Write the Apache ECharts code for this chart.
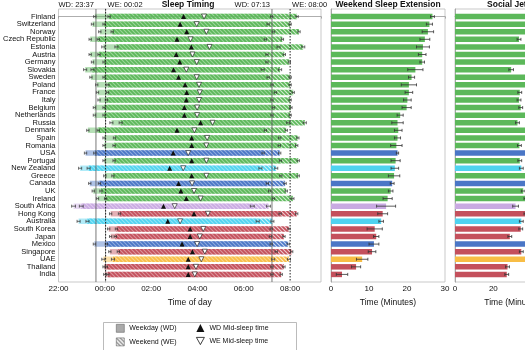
<!DOCTYPE html>
<html>
<head>
<meta charset="utf-8">
<script src="https://cdn.jsdelivr.net/npm/echarts@6/dist/echarts.min.js"></script>
<style>
  html, body { margin: 0; padding: 0; overflow: hidden; background: #fff; }
  #chart { width: 600px; height: 350px; }
</style>
</head>
<body>
<div id="chart"></div>
<script>
// countries, top to bottom
const countries = ['Finland', 'Switzerland', 'Norway', 'Czech Republic', 'Estonia', 'Austria', 'Germany',
  'Slovakia', 'Sweden', 'Poland', 'France', 'Italy', 'Belgium', 'Netherlands', 'Russia', 'Denmark',
  'Spain', 'Romania', 'USA', 'Portugal', 'New Zealand', 'Greece', 'Canada', 'UK', 'Ireland',
  'South Africa', 'Hong Kong', 'Australia', 'South Korea', 'Japan', 'Mexico', 'Singapore', 'UAE',
  'Thailand', 'India'];
const regions = ['eu', 'eu', 'eu', 'eu', 'eu', 'eu', 'eu', 'eu', 'eu', 'eu', 'eu', 'eu', 'eu', 'eu', 'eu', 'eu',
  'eu', 'eu', 'na', 'eu', 'oc', 'eu', 'na', 'eu', 'eu', 'af', 'as', 'oc', 'as', 'as', 'na', 'as', 'me', 'as', 'as'];

// minutes relative to midnight
const wdStart = [-26, -32, -13, -38, -4, -38, -32, -51, -36, -21, -19, -15, -27, -27, 17, -44, -2, -2, -50, -2,
  -64, 0, -39, -30, -19, -81, 15, -68, 10, 15, -27, 13, -4, -2, 0];
const weStart = [11, -2, 19, -17, 30, -15, -2, -32, -2, 8, 7, 4, -2, -2, 41, -17, 25, 24, -26, 24,
  -42, 21, -14, -10, 2, -61, 38, -45, 30, 27, 4, 35, 21, 4, 8];
const wdEnd = [432, 423, 437, 416, 450, 420, 420, 409, 423, 433, 442, 433, 437, 433, 475, 416, 453, 452, 410, 455,
  403, 456, 421, 427, 437, 382, 454, 396, 431, 429, 431, 444, 436, 433, 433];
const weEnd = [498, 480, 503, 460, 514, 465, 478, 454, 480, 480, 488, 480, 482, 480, 518, 470, 500, 497, 453, 501,
  444, 501, 467, 470, 487, 424, 497, 434, 477, 464, 475, 484, 477, 464, 457];
const timeErr = [3, 3, 3, 3, 4, 3, 3, 4, 3, 3, 3, 3, 3, 3, 4, 3, 3, 3, 3, 3,
  4, 3, 3, 3, 3, 5, 3, 4, 3, 3, 3, 3, 4, 3, 3];
const wdMid = [204, 195, 212, 187, 224, 185, 194, 178, 191, 208, 212, 211, 206, 206, 248, 187, 225, 225, 177, 225,
  168, 225, 191, 197, 211, 152, 231, 163, 221, 221, 200, 227, 216, 216, 216];
const weMid = [257, 238, 263, 222, 271, 227, 238, 211, 238, 244, 246, 244, 239, 239, 279, 232, 265, 263, 216, 263,
  203, 263, 226, 231, 248, 181, 267, 195, 255, 246, 239, 259, 250, 236, 233];

// reference lines (means)
const refTimes = [-23, 2, 433, 480];
const refLabels = ['WD: 23:37', 'WE: 00:02', 'WD: 07:13', 'WE: 08:00'];

// weekend sleep extension (minutes)
const extension = [26.7, 25.9, 25.5, 24.7, 24.2, 24.0, 24.0, 22.2, 21.2, 20.5, 20.5, 20.1, 19.9, 18.2, 17.5, 17.7,
  17.5, 17.2, 17.5, 17.0, 16.8, 16.6, 16.1, 15.7, 14.9, 14.5, 13.6, 13.2, 11.5, 11.9, 11.3, 10.8, 8.2, 6.6, 2.9];
const extensionErr = [0.5, 0.8, 1.5, 1.3, 1.7, 1.0, 0.6, 2.0, 0.8, 2.0, 1.0, 1.0, 1.2, 0.8, 1.5, 1.0,
  0.8, 1.5, 0.3, 1.2, 1.0, 1.5, 0.5, 0.6, 1.2, 2.5, 1.3, 0.6, 2.0, 0.7, 1.3, 1.0, 1.5, 1.2, 1.5];

// social jetlag (minutes)
const jetlag = [53, 43, 51, 33.4, 47, 42, 44, 29.3, 47, 38, 33.8, 33.4, 34.3, 38, 32.6, 46,
  40, 33.6, 38, 33.8, 34.6, 38, 38, 35.6, 37, 31.6, 37, 34.6, 34.3, 28.6, 39, 34.6, 38, 27.4, 27.0];
const jetlagErr = [1, 1, 1, 1, 1, 1, 1, 1.2, 1, 1, 1, 1, 1, 1, 1, 1,
  1, 1, 1, 1, 1, 1, 1, 1, 1, 1.5, 1, 1, 1, 1, 1, 1, 1, 1, 1];

const REGION_COLORS = {
  eu: '#5cb85a',
  na: '#4a76c6',
  oc: '#4fd3f0',
  af: '#c9aae2',
  as: '#c4505c',
  me: '#f8bd45'
};

function rgba(hex, a) {
  const n = parseInt(hex.slice(1), 16);
  return 'rgba(' + (n >> 16) + ',' + ((n >> 8) & 255) + ',' + (n & 255) + ',' + a + ')';
}

// diagonal hatch tile
function makeHatch(color, bg, lw) {
  const c = document.createElement('canvas');
  c.width = 4;
  c.height = 4;
  const ctx = c.getContext('2d');
  if (bg) {
    ctx.fillStyle = bg;
    ctx.fillRect(0, 0, 4, 4);
  }
  ctx.strokeStyle = color;
  ctx.lineWidth = lw || 1.3;
  ctx.beginPath();
  ctx.moveTo(-1, -1); ctx.lineTo(5, 5);
  ctx.moveTo(-1, 3); ctx.lineTo(1, 5);
  ctx.moveTo(3, -1); ctx.lineTo(5, 1);
  ctx.stroke();
  return c;
}

const hatchByRegion = {};
Object.keys(REGION_COLORS).forEach(k => {
  hatchByRegion[k] = makeHatch(REGION_COLORS[k], rgba(REGION_COLORS[k], 0.3), 1.7);
});

function fmtTime(v) {
  const h = Math.floor(((v / 60) + 24) % 24);
  const m = ((v % 60) + 60) % 60;
  return String(h).padStart(2, '0') + ':' + String(m).padStart(2, '0');
}

const FONT = 'Liberation Sans, Arial, sans-serif';
const BAR_H = 5.5;
const GRID_TOP = 9;
const GRID_BOTTOM = 68; // 350 - 282

function yAxisFor(gridIndex, showLabels) {
  return {
    type: 'value', gridIndex: gridIndex, inverse: true, min: -1, max: 35, interval: 1,
    axisLine: { show: true, lineStyle: { color: '#999', width: 0.8 } },
    axisTick: { show: false },
    splitLine: { show: false },
    axisLabel: {
      show: showLabels, margin: 3, fontSize: 7.5, color: '#111', fontFamily: FONT,
      formatter: v => countries[Math.round(v)] || ''
    }
  };
}

function xAxisFor(gridIndex, min, max, interval, name, formatter) {
  return {
    type: 'value', gridIndex: gridIndex, min: min, max: max, interval: interval,
    name: name, nameLocation: 'middle', nameGap: 15,
    nameTextStyle: { fontSize: 8.5, color: '#111', fontFamily: FONT },
    axisLine: { show: true, lineStyle: { color: '#999', width: 0.8 } },
    axisTick: { show: true, length: 2, lineStyle: { color: '#999', width: 0.8 } },
    splitLine: { show: false },
    axisLabel: { margin: 3, fontSize: 8, color: '#111', fontFamily: FONT, formatter: formatter }
  };
}

// horizontal bar with error bar (middle and right panels)
function barWithErr(params, api) {
  const i = api.value(0);
  const v = api.value(1);
  const e = api.value(2);
  const p0 = api.coord([0, i]);
  const p1 = api.coord([v, i]);
  const pl = api.coord([v - e, i]);
  const pr = api.coord([v + e, i]);
  const color = REGION_COLORS[regions[i]];
  return {
    type: 'group',
    children: [
      { type: 'rect', shape: { x: p0[0], y: p0[1] - BAR_H / 2, width: p1[0] - p0[0], height: BAR_H }, style: { fill: color } },
      { type: 'line', shape: { x1: pl[0], y1: pl[1], x2: pr[0], y2: pr[1] }, style: { stroke: '#333', lineWidth: 0.8 } },
      { type: 'line', shape: { x1: pl[0], y1: pl[1] - 1.5, x2: pl[0], y2: pl[1] + 1.5 }, style: { stroke: '#333', lineWidth: 0.8 } },
      { type: 'line', shape: { x1: pr[0], y1: pr[1] - 1.5, x2: pr[0], y2: pr[1] + 1.5 }, style: { stroke: '#333', lineWidth: 0.8 } }
    ]
  };
}

const idx = countries.map((c, i) => i);

const chart = echarts.init(document.getElementById('chart'), null, { renderer: 'canvas' });

const option = {
  animation: false,
  textStyle: { fontFamily: FONT },
  title: [
    { text: 'Sleep Timing', left: 188, top: 0, textAlign: 'center', padding: 0, textStyle: { fontSize: 8.5, fontWeight: 'bold', color: '#111' } },
    { text: 'Weekend Sleep Extension', left: 388, top: 0, textAlign: 'center', padding: 0, textStyle: { fontSize: 8.5, fontWeight: 'bold', color: '#111' } },
    { text: 'Social Jetlag', left: 513, top: 0, textAlign: 'center', padding: 0, textStyle: { fontSize: 8.5, fontWeight: 'bold', color: '#111' } }
  ],
  grid: [
    { left: 55, width: 266, top: GRID_TOP, bottom: GRID_BOTTOM, show: true, borderColor: '#bbb', borderWidth: 0.8 },
    { left: 331, width: 114, top: GRID_TOP, bottom: GRID_BOTTOM, show: true, borderColor: '#bbb', borderWidth: 0.8 },
    { left: 455, width: 115, top: GRID_TOP, bottom: GRID_BOTTOM, show: true, borderColor: '#bbb', borderWidth: 0.8 }
  ],
  xAxis: [
    xAxisFor(0, -120, 560, 120, 'Time of day', v => (v % 120 === 0 ? fmtTime(v) : '')),
    xAxisFor(1, 0, 30, 10, 'Time (Minutes)'),
    xAxisFor(2, 0, 60, 20, 'Time (Minutes)')
  ],
  yAxis: [yAxisFor(0, true), yAxisFor(1, false), yAxisFor(2, false)],
  legend: [
    {
      left: 116, top: 324, orient: 'vertical', itemGap: 5, itemWidth: 8, itemHeight: 8, padding: 0,
      selectedMode: false,
      textStyle: { fontSize: 7, color: '#111', fontFamily: FONT },
      data: [
        { name: 'Weekday (WD)', icon: 'rect', itemStyle: { color: '#aaa', borderColor: '#666', borderWidth: 0.6 } },
        { name: 'Weekend (WE)', icon: 'rect', itemStyle: { color: { image: makeHatch('#888', '#fff'), repeat: 'repeat' }, borderColor: '#666', borderWidth: 0.6 } }
      ]
    },
    {
      left: 196, top: 324, orient: 'vertical', itemGap: 5, itemWidth: 8, itemHeight: 8, padding: 0,
      selectedMode: false,
      textStyle: { fontSize: 7, color: '#111', fontFamily: FONT },
      data: [
        { name: 'WD Mid-sleep time', icon: 'triangle', itemStyle: { color: '#111' } },
        { name: 'WE Mid-sleep time', icon: 'path://M0,0L10,0L5,9Z', itemStyle: { color: '#fff', borderColor: '#111', borderWidth: 0.8 } }
      ]
    }
  ],
  graphic: [
    { type: 'rect', left: 101, top: 320, shape: { width: 193, height: 40 }, style: { fill: 'none', stroke: '#aaa', lineWidth: 0.8 }, silent: true }
  ],
  series: [
    {
      name: 'Weekday (WD)',
      type: 'custom', xAxisIndex: 0, yAxisIndex: 0, z: 2,
      itemStyle: { color: '#aaa' },
      data: idx.map(i => [i, wdStart[i], wdEnd[i]]),
      encode: { x: [1, 2], y: 0 },
      renderItem: (params, api) => {
        const i = api.value(0);
        const p0 = api.coord([api.value(1), i]);
        const p1 = api.coord([api.value(2), i]);
        return {
          type: 'rect',
          shape: { x: p0[0], y: p0[1] - BAR_H / 2, width: p1[0] - p0[0], height: BAR_H },
          style: { fill: rgba(REGION_COLORS[regions[i]], 0.45) }
        };
      }
    },
    {
      name: 'Weekend (WE)',
      type: 'custom', xAxisIndex: 0, yAxisIndex: 0, z: 3,
      itemStyle: { color: '#888' },
      data: idx.map(i => [i, weStart[i], weEnd[i]]),
      encode: { x: [1, 2], y: 0 },
      renderItem: (params, api) => {
        const i = api.value(0);
        const p0 = api.coord([api.value(1), i]);
        const p1 = api.coord([api.value(2), i]);
        return {
          type: 'rect',
          shape: { x: p0[0], y: p0[1] - BAR_H / 2, width: p1[0] - p0[0], height: BAR_H },
          style: { fill: { image: hatchByRegion[regions[i]], repeat: 'repeat' } }
        };
      }
    },
    {
      name: 'timeErr',
      type: 'custom', xAxisIndex: 0, yAxisIndex: 0, z: 4,
      data: idx.map(i => [i, wdStart[i], weStart[i], wdEnd[i], weEnd[i], timeErr[i]]),
      encode: { x: [1, 4], y: 0 },
      renderItem: (params, api) => {
        const i = api.value(0);
        const e = api.value(5);
        const children = [];
        [1, 2, 3, 4].forEach(k => {
          const t = api.value(k);
          const a = api.coord([t - e, i]);
          const b = api.coord([t + e, i]);
          const st = { stroke: '#333', lineWidth: 0.7 };
          children.push({ type: 'line', shape: { x1: a[0], y1: a[1], x2: b[0], y2: b[1] }, style: st });
          children.push({ type: 'line', shape: { x1: a[0], y1: a[1] - 1.5, x2: a[0], y2: a[1] + 1.5 }, style: st });
          children.push({ type: 'line', shape: { x1: b[0], y1: b[1] - 1.5, x2: b[0], y2: b[1] + 1.5 }, style: st });
        });
        return { type: 'group', children: children };
      }
    },
    {
      name: 'refLines',
      type: 'custom', xAxisIndex: 0, yAxisIndex: 0, z: 5,
      data: refTimes.map((t, k) => [t, k]),
      encode: { x: 0 },
      renderItem: (params, api) => {
        const k = api.value(1);
        const t = api.value(0);
        const top = api.coord([t, -1]);
        const bot = api.coord([t, 35]);
        const isWE = k % 2 === 1;
        return {
          type: 'group',
          children: [
            {
              type: 'line', shape: { x1: top[0], y1: top[1], x2: bot[0], y2: bot[1] },
              style: { stroke: isWE ? '#222' : '#555', lineWidth: isWE ? 1 : 0.8, lineDash: isWE ? [1.5, 1.5] : null }
            },
            {
              type: 'text', x: top[0] + (isWE ? 2 : -2), y: top[1] - 4,
              style: {
                text: refLabels[k], fill: '#111', font: '7.5px ' + FONT,
                align: isWE ? 'left' : 'right', verticalAlign: 'middle'
              }
            }
          ]
        };
      }
    },
    {
      name: 'WD Mid-sleep time',
      type: 'scatter', xAxisIndex: 0, yAxisIndex: 0, z: 6,
      symbol: 'triangle', symbolSize: 5,
      itemStyle: { color: '#111', opacity: 1 },
      data: idx.map(i => [wdMid[i], i])
    },
    {
      name: 'WE Mid-sleep time',
      type: 'scatter', xAxisIndex: 0, yAxisIndex: 0, z: 6,
      symbol: 'path://M0,0L10,0L5,9Z', symbolSize: 5,
      itemStyle: { color: '#fff', borderColor: '#111', borderWidth: 0.6, opacity: 1 },
      data: idx.map(i => [weMid[i], i])
    },
    {
      name: 'extension',
      type: 'custom', xAxisIndex: 1, yAxisIndex: 1,
      data: idx.map(i => [i, extension[i], extensionErr[i]]),
      encode: { x: 1, y: 0 },
      renderItem: barWithErr
    },
    {
      name: 'jetlag',
      type: 'custom', xAxisIndex: 2, yAxisIndex: 2,
      data: idx.map(i => [i, jetlag[i], jetlagErr[i]]),
      encode: { x: 1, y: 0 },
      renderItem: barWithErr
    }
  ]
};

chart.setOption(option);

window.addEventListener('resize', () => {
  chart.resize();
});
</script>
</body>
</html>
